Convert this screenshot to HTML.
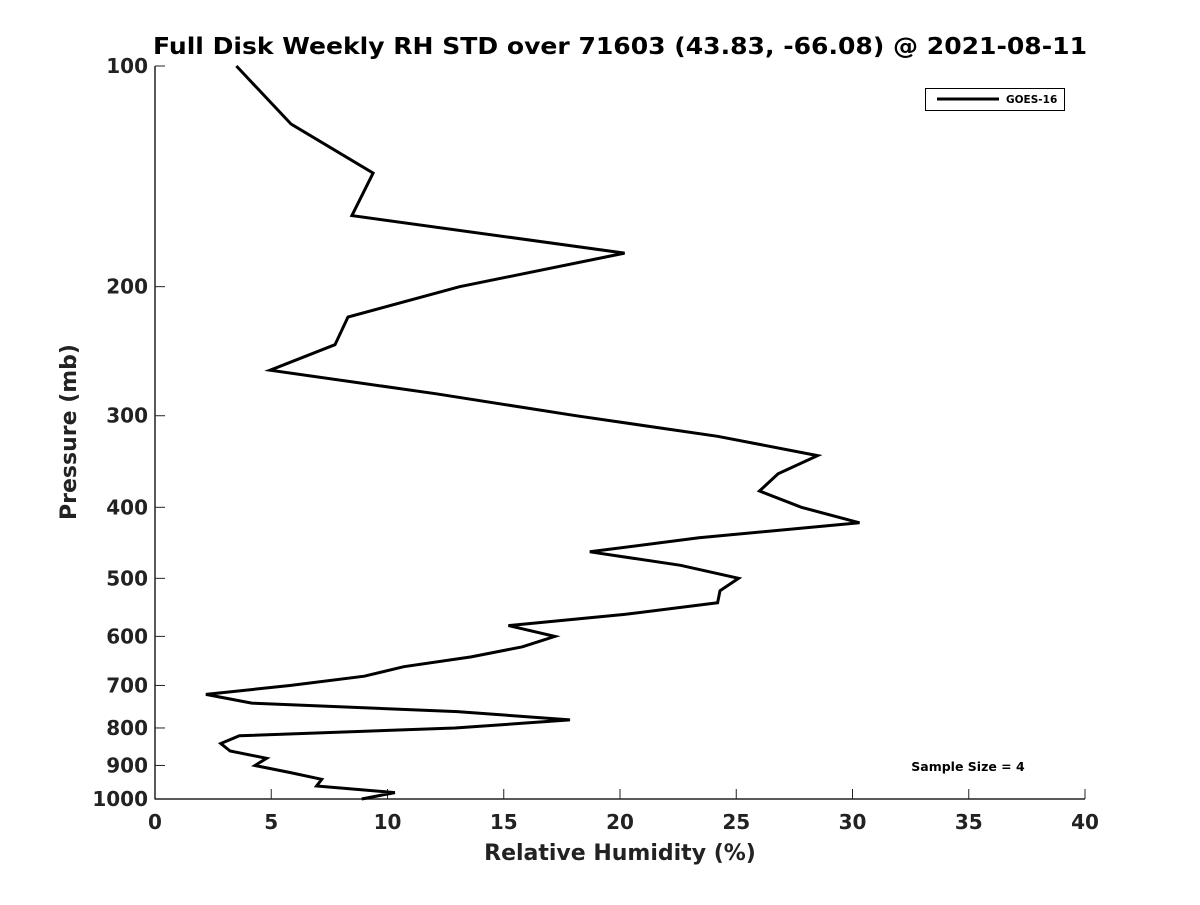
<!DOCTYPE html>
<html><head><meta charset="utf-8"><style>
body{margin:0;background:#fff}
svg{font-family:"DejaVu Sans","Liberation Sans",sans-serif;font-weight:bold}
</style></head><body>
<svg id="c" width="1200" height="900">
<text x="620" y="54" text-anchor="middle" font-size="23" textLength="934" lengthAdjust="spacingAndGlyphs">Full Disk Weekly RH STD over 71603 (43.83, -66.08) @ 2021-08-11</text>
<g id="ax"></g>
<text x="620" y="860" text-anchor="middle" font-size="22" fill="#222">Relative Humidity (%)</text>
<text transform="translate(76,432) rotate(-90)" text-anchor="middle" font-size="22" fill="#222">Pressure (mb)</text>
<g>
<rect x="925.5" y="88.5" width="139" height="22" fill="#fff" stroke="#000"/>
<line x1="937" y1="99" x2="999" y2="99" stroke="#000" stroke-width="3"/>
<text x="1006" y="103" font-size="10.5">GOES-16</text>
</g>
<text x="968" y="771" text-anchor="middle" font-size="12.5">Sample Size = 4</text>
</svg>
<script>
const pressures=[100,120,140,160,180,200,220,240,260,280,300,320,340,360,380,400,420,440,460,480,500,520,540,560,580,600,620,640,660,680,700,720,740,760,780,800,820,840,860,880,900,920,940,960,980,1000];
const rhStd=[3.5,5.85,9.38,8.47,20.2,13.1,8.3,7.74,4.95,12.1,18.1,24.2,28.5,26.8,26.0,27.8,30.3,23.4,18.7,22.6,25.1,24.3,24.2,20.2,15.2,17.2,15.8,13.6,10.7,9.0,5.8,2.19,4.16,13.0,17.85,12.9,3.63,2.83,3.23,4.80,4.30,5.8,7.17,6.95,10.32,8.89];
const xTicks=[0,5,10,15,20,25,30,35,40];
const yTicks=[100,200,300,400,500,600,700,800,900,1000];
const X0=155,X1=1085,Y0=66,Y1=799;
const xs=v=>X0+(v-0)/40*(X1-X0);
const ys=p=>Y0+Math.log10(p/100)*(Y1-Y0);
const NS='http://www.w3.org/2000/svg';
const ax=document.getElementById('ax');
function mk(t,a){const e=document.createElementNS(NS,t);for(const k in a)e.setAttribute(k,a[k]);ax.appendChild(e);return e;}
let e=mk('line',{x1:X0,y1:Y0,x2:X0,y2:Y1+0.5,stroke:'#222','stroke-width':1.5});


e=mk('line',{x1:X0,y1:Y1,x2:X1,y2:Y1,stroke:'#222','stroke-width':1.5});


xTicks.forEach(v=>{
 const x=xs(v);
 let t=mk('line',{x1:x,y1:Y1,x2:x,y2:Y1-10,stroke:'#222','stroke-width':1});
 
 
 let l=mk('text',{x:x,y:Y1+30,'text-anchor':'middle','font-size':20,fill:'#222'});
 l.textContent=v;
 
 
});
yTicks.forEach(p=>{
 const y=ys(p);
 let t=mk('line',{x1:X0,y1:y,x2:X0+10,y2:y,stroke:'#222','stroke-width':1});
 
 
 let l=mk('text',{x:X0-7,y:y+7,'text-anchor':'end','font-size':20,fill:'#222'});
 l.textContent=p;
 
 
});
const pts=pressures.map((p,i)=>xs(rhStd[i]).toFixed(1)+','+ys(p).toFixed(1)).join(' ');
e=mk('polyline',{points:pts,fill:'none',stroke:'#000','stroke-width':3,'stroke-linejoin':'miter'});


</script>
</body></html>
